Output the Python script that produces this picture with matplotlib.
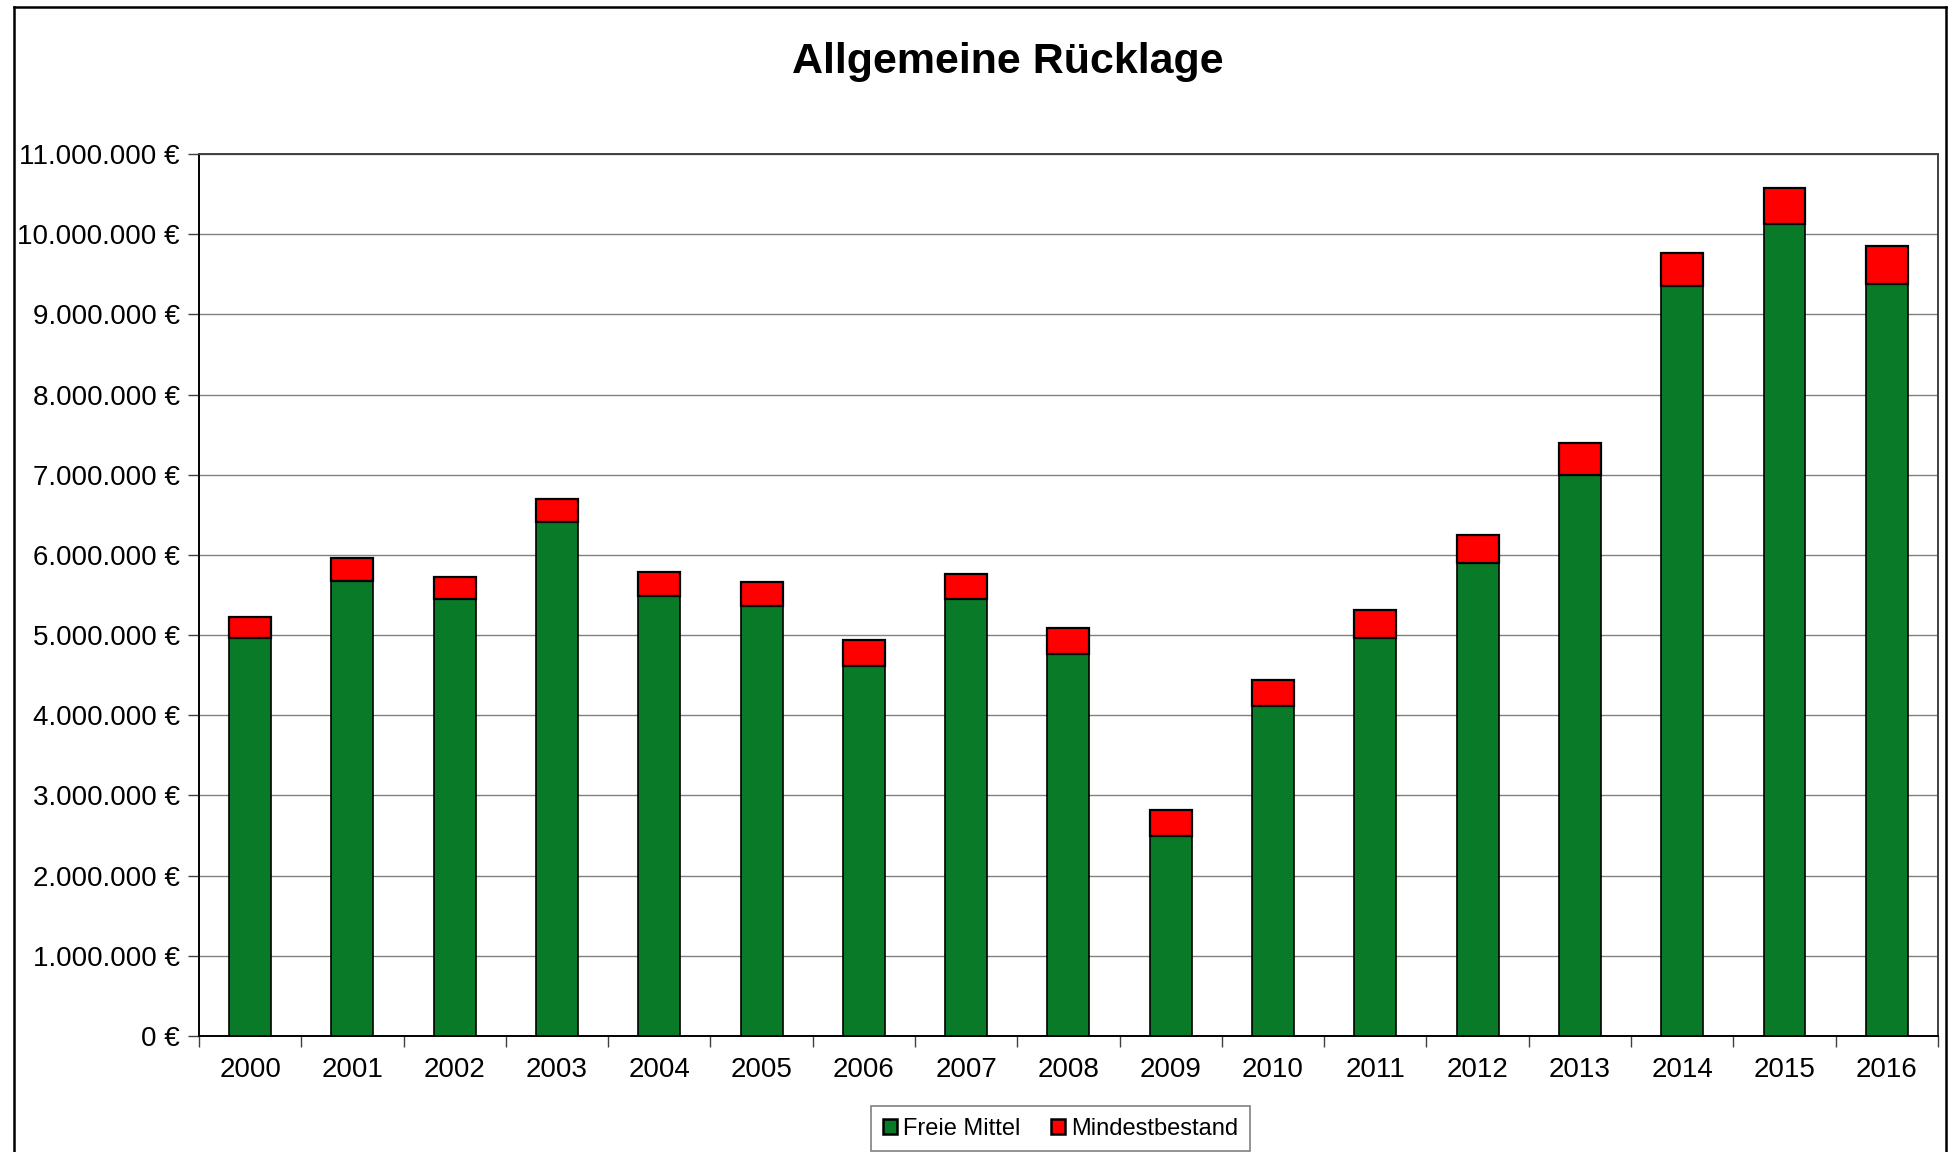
import matplotlib
matplotlib.use("Agg")
import matplotlib.pyplot as plt
import numpy as np
from matplotlib.ticker import FixedLocator, FuncFormatter
from matplotlib.lines import Line2D
from matplotlib.patches import Patch

plt.rcParams["font.family"] = ["Liberation Sans", "DejaVu Sans"]

# ── data ──────────────────────────────────────────────────────────────────────
years = ["2000", "2001", "2002", "2003", "2004", "2005", "2006", "2007", "2008",
         "2009", "2010", "2011", "2012", "2013", "2014", "2015", "2016"]
freie_mittel = [4_960_000, 5_680_000, 5_450_000, 6_410_000, 5_490_000, 5_360_000,
                4_610_000, 5_450_000, 4_760_000, 2_500_000, 4_110_000, 4_960_000,
                5_900_000, 7_000_000, 9_350_000, 10_130_000, 9_380_000]
gesamt = [5_225_000, 5_960_000, 5_730_000, 6_700_000, 5_790_000, 5_660_000,
          4_940_000, 5_760_000, 5_090_000, 2_820_000, 4_440_000, 5_310_000,
          6_250_000, 7_400_000, 9_770_000, 10_580_000, 9_850_000]
mindestbestand = [g - f for g, f in zip(gesamt, freie_mittel)]
y_ticks = list(range(0, 11_000_001, 1_000_000))

GREEN = "#087A28"
RED = "#FF0000"


def euro(v, _):
    return f"{int(round(v)):,} €".replace(",", ".")


# ── figure ────────────────────────────────────────────────────────────────────
fig = plt.figure(figsize=(19.51, 11.52), dpi=100)
ax = fig.add_axes([0.102, 0.1007, 0.8913, 0.7656])

x = np.arange(len(years))
w = 0.41
ax.bar(x, freie_mittel, width=w, color=GREEN, edgecolor="black", linewidth=1.2,
       zorder=3)
ax.bar(x, mindestbestand, width=w, bottom=freie_mittel, color=RED,
       edgecolor="black", linewidth=1.6, zorder=3)

ax.set_xlim(-0.5, len(years) - 0.5)
ax.set_ylim(0, 11_000_000)

ax.yaxis.set_major_locator(FixedLocator(y_ticks))
ax.yaxis.set_major_formatter(FuncFormatter(euro))
ax.grid(axis="y", color="#808080", linewidth=1.0, zorder=0)

# ticks between categories, labels centered
ax.xaxis.set_major_locator(FixedLocator(np.arange(-0.5, len(years), 1.0)))
ax.xaxis.set_major_formatter(FuncFormatter(lambda v, _: ""))
ax.xaxis.set_minor_locator(FixedLocator(x))
ax.set_xticklabels(years, minor=True)
ax.tick_params(axis="x", which="major", length=8, width=1, colors="#404040")
ax.tick_params(axis="x", which="minor", length=0, labelsize=20, pad=15,
               labelcolor="black")
ax.tick_params(axis="y", length=8, width=1, labelsize=20, pad=6,
               color="#404040", labelcolor="black")

for side in ["left", "bottom"]:
    ax.spines[side].set_color("black")
    ax.spines[side].set_linewidth(1.4)
for side in ["top", "right"]:
    ax.spines[side].set_color("#404040")
    ax.spines[side].set_linewidth(1.4)

fig.text(0.5167, 0.946, "Allgemeine Rücklage", ha="center", va="center",
         fontsize=31, fontweight="bold")

# outer chart border (bottom edge runs off the image)
for xs, ys in [([0.0072, 0.0072], [-0.01, 0.994]),
               ([0.0072, 0.9975], [0.994, 0.994]),
               ([0.9975, 0.9975], [-0.01, 0.994])]:
    fig.add_artist(Line2D(xs, ys, transform=fig.transFigure, color="black",
                          linewidth=1.8))

handles = [Patch(facecolor=GREEN, edgecolor="black", linewidth=1.8),
           Patch(facecolor=RED, edgecolor="black", linewidth=1.8)]
leg = fig.legend(handles, ["Freie Mittel", "Mindestbestand"], loc="lower center",
                 bbox_to_anchor=(0.5435, 0.0005), ncol=2, fontsize=17,
                 frameon=True, fancybox=False, edgecolor="#606060",
                 handlelength=0.6, handleheight=0.6, handletextpad=0.25,
                 columnspacing=1.3, borderpad=0.5, borderaxespad=0.0)
leg.get_frame().set_linewidth(1.2)

fig.savefig("out.png", dpi=100)
